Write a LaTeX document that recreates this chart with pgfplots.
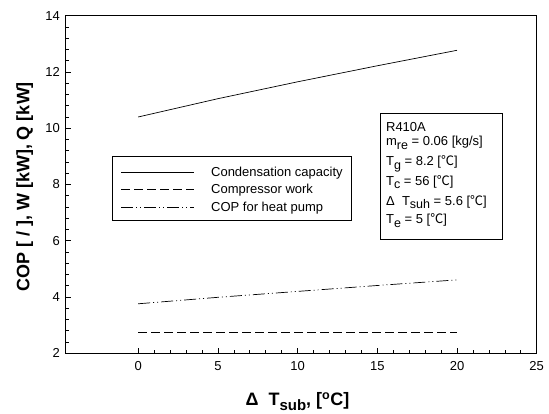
\documentclass[border=0pt]{standalone}
\usepackage{fontspec}
\setmainfont{Liberation Sans}
\newfontfamily\cjk{Noto Sans CJK KR}
\usepackage{pgfplots}
\pgfplotsset{compat=1.18}
\newcommand\degC{{\cjk ℃}}
\newcommand\lsub[1]{\raisebox{-3.8pt}{\fontsize{12.5}{12.5}\selectfont #1}}
\begin{document}
\begin{tikzpicture}
\begin{axis}[
    scale only axis,
    width=471pt, height=337.6pt,
    xmin=-4.55, xmax=25,
    ymin=2, ymax=14,
    xtick={0,5,...,25},
    ytick={2,4,...,14},
    minor x tick num=4,
    minor y tick num=4,
    tick pos=left,
    tick align=inside,
    major tick length=5pt,
    minor tick length=3pt,
    axis line style={line width=0.8pt},
    every tick/.style={line width=0.6pt, black},
    /pgf/number format/assume math mode=true,
    ticklabel style={font=\fontsize{13}{13}\selectfont},
    yticklabel style={xshift=-2.4pt},
    xticklabel style={yshift=-4.8pt},
    xlabel={\bfseries Δ\ \ T\raisebox{-4.5pt}{\fontsize{15}{15}\selectfont sub}, [\textsuperscript{o}C]},
    xlabel style={font=\fontsize{18}{18}\selectfont, at={(axis description cs:0.5,0)}, anchor=base, yshift=-52.7pt, xshift=-3.7pt},
    ylabel={\bfseries COP [ / ], W [kW], Q [kW]},
    ylabel style={font=\fontsize{18}{18}\selectfont, at={(axis description cs:0,0.5)}, anchor=center, yshift=41pt, xshift=-2.5pt},
    legend cell align=left,
    legend style={at={(axis cs:-1.63,9.023)}, anchor=north west, draw=black, line width=0.7pt,
        inner xsep=8.4pt, inner ysep=9.3pt, row sep=6.8pt, column sep=0pt,
        font=\fontsize{13}{15}\selectfont,
        nodes={inner sep=0pt, text height=10.7pt, text depth=0pt, anchor=base west}},
    legend image code/.code={\draw[#1] (0pt,4pt) -- (72.6pt,4pt); \path[draw=none] (0pt,0pt) -- (89.8pt,0pt);},
]
\addplot[black, line width=0.7pt] coordinates {
    (0,10.40) (5,11.05) (10,11.65) (15,12.22) (20,12.77)
};
\addlegendentry{Condensation capacity}
\addplot[black, line width=0.7pt, dash pattern=on 9pt off 4pt] coordinates {
    (0,2.75) (5,2.75) (10,2.75) (15,2.75) (20,2.75)
};
\addlegendentry{Compressor work}
\addplot[black, line width=0.7pt, dash pattern=on 12pt off 3pt on 1pt off 3pt on 1pt off 3pt] coordinates {
    (0,3.76) (5,3.99) (10,4.20) (15,4.41) (20,4.61)
};
\addlegendentry{COP for heat pump}

\draw[line width=0.7pt] (axis cs:15.21,10.52) rectangle (axis cs:22.84,6.06);
\begin{scope}[every node/.style={anchor=base west, inner sep=0pt, font=\fontsize{13}{13}\selectfont}]
\node at (axis cs:15.54,9.90) {R410A};
\node at (axis cs:15.54,9.38) {m\lsub{re} = 0.06 [kg/s]};
\node at (axis cs:15.54,8.67) {T\lsub{g} = 8.2 [\degC]};
\node at (axis cs:15.54,7.98) {T\lsub{c} = 56 [\degC]};
\node at (axis cs:15.54,7.27) {Δ\ \ T\lsub{suh} = 5.6 [\degC]};
\node at (axis cs:15.54,6.60) {T\lsub{e} = 5 [\degC]};
\end{scope}
\end{axis}
\path (-65.7pt,-60.7pt) rectangle (483.3pt,353.3pt);
\end{tikzpicture}
\end{document}
